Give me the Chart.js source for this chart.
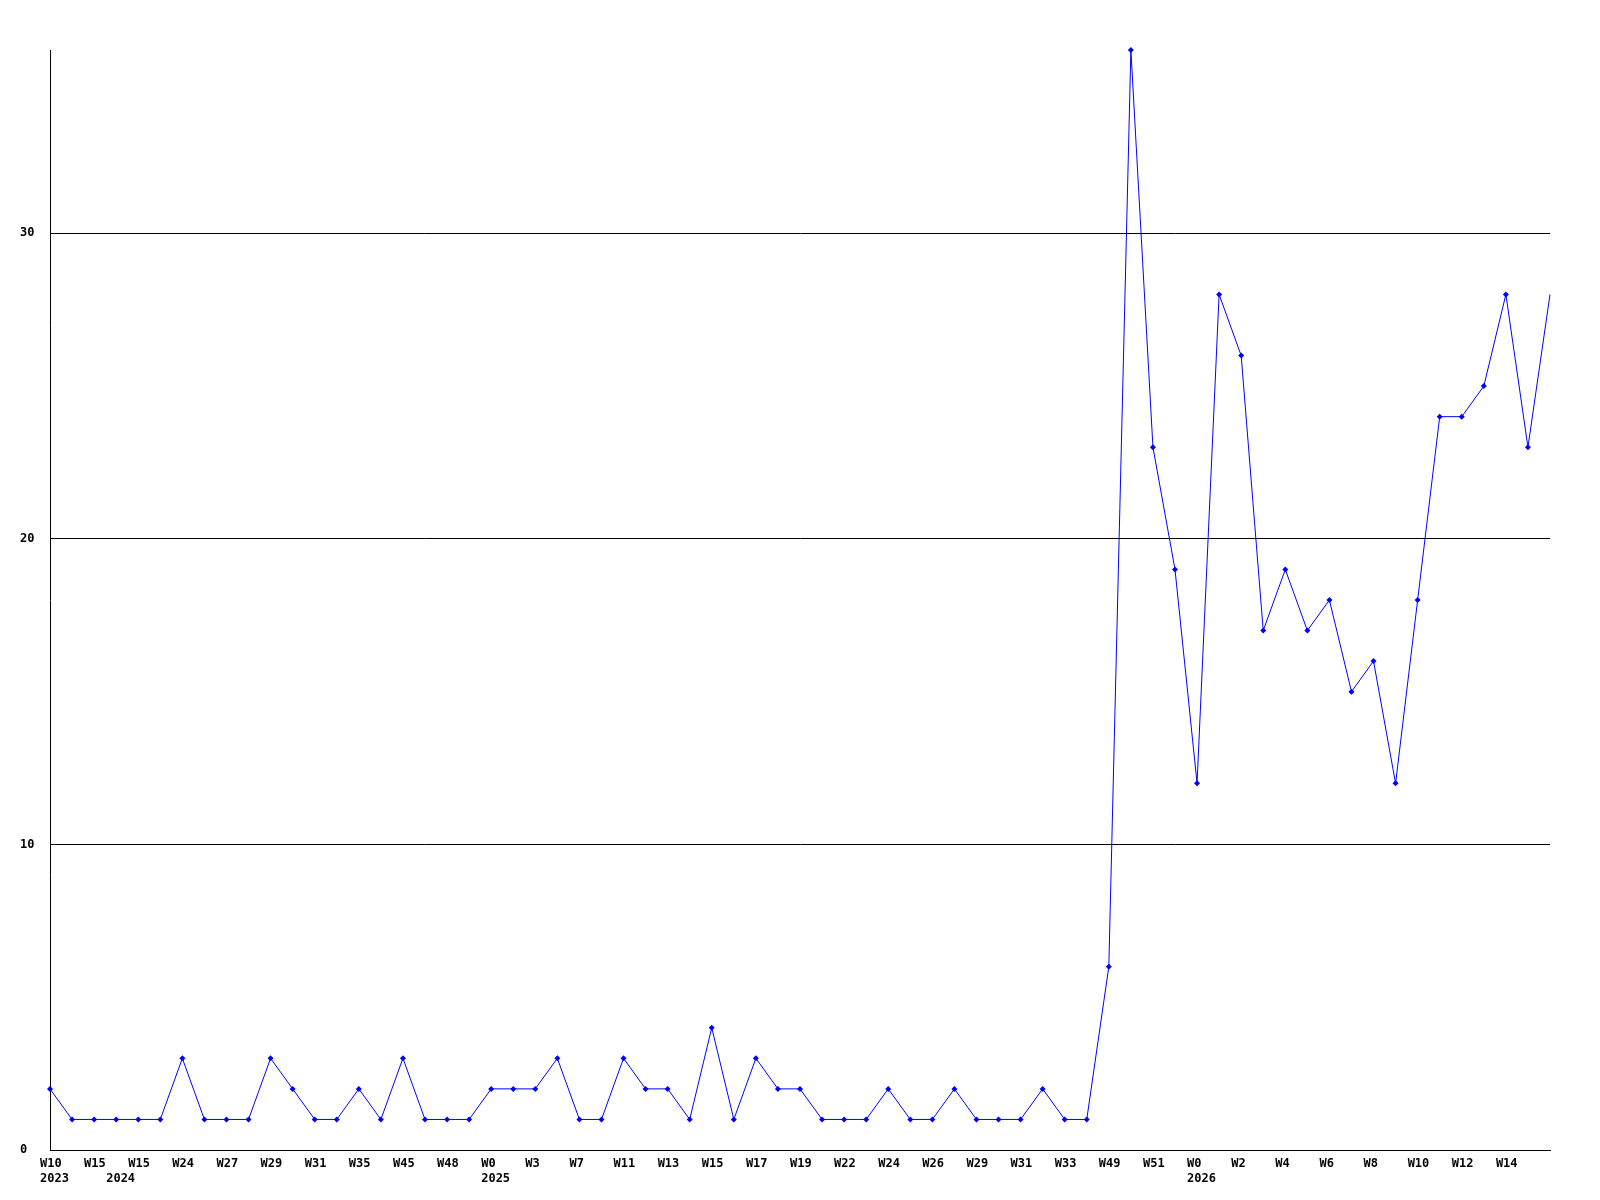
<!DOCTYPE html>
<html>
<head>
<meta charset="utf-8">
<script src="https://cdn.jsdelivr.net/npm/chart.js@4.4.0/dist/chart.umd.min.js"></script>
<style>
  html, body { margin: 0; padding: 0; background: #fff; }
  #wrap { width: 1600px; height: 1200px; }
</style>
</head>
<body>
<div id="wrap"><canvas id="weekChart" width="1600" height="1200"></canvas></div>
<script>
// week labels, shown under every second point ('' = no label)
const weeks = [
    'W10', '', 'W15', '', 'W15', '', 'W24', '', 'W27', '', 'W29', '', 'W31', '', 'W35', '', 'W45', '',
    'W48', '', 'W0', '', 'W3', '', 'W7', '', 'W11', '', 'W13', '', 'W15', '', 'W17', '', 'W19', '',
    'W22', '', 'W24', '', 'W26', '', 'W29', '', 'W31', '', 'W33', '', 'W49', '', 'W51', '', 'W0', '',
    'W2', '', 'W4', '', 'W6', '', 'W8', '', 'W10', '', 'W12', '', 'W14', '', ''
];
// year shown on the second line under some points
const years = { 0: '2023', 3: '2024', 20: '2025', 52: '2026' };

const counts = [
    2, 1, 1, 1, 1, 1, 3, 1, 1, 1, 3, 2, 1, 1, 2, 1, 3, 1, 1, 1,
    2, 2, 2, 3, 1, 1, 3, 2, 2, 1, 4, 1, 3, 2, 2, 1, 1, 1, 2, 1,
    1, 2, 1, 1, 1, 2, 1, 1, 6, 36, 23, 19, 12, 28, 26, 17, 19, 17, 18, 15,
    16, 12, 18, 24, 24, 25, 28, 23, 28
];

const yTicks = [0, 10, 20, 30];
const yMax = 36;

const labels = weeks.map((w, i) => years[i] ? [w, years[i]] : w);
const tickFont = { family: "'DejaVu Sans Mono', monospace", size: 12, weight: 'bold', lineHeight: 1.2 };

const ctx = document.getElementById('weekChart').getContext('2d');

new Chart(ctx, {
    type: 'line',
    data: {
        labels: labels,
        datasets: [{
            data: counts,
            borderColor: '#0000ff',
            backgroundColor: '#0000ff',
            borderWidth: 1,
            pointStyle: 'rectRot',
            // last point sits on the right edge without a marker
            pointRadius: (c) => c.dataIndex === counts.length - 1 ? 0 : 3,
            pointBorderWidth: 0,
            tension: 0,
            clip: false
        }]
    },
    options: {
        responsive: false,
        animation: false,
        layout: { padding: { top: 50, right: 50, left: 20, bottom: 0 } },
        plugins: {
            legend: { display: false },
            tooltip: { enabled: false }
        },
        scales: {
            x: {
                grid: { display: false },
                border: { display: true, color: '#000', width: 1 },
                afterFit: (scale) => { scale.height = 50; },
                ticks: {
                    autoSkip: false,
                    maxRotation: 0,
                    minRotation: 0,
                    align: 'start',
                    labelOffset: -10,
                    padding: -1,
                    color: '#000',
                    font: tickFont
                }
            },
            y: {
                min: 0,
                max: yMax,
                afterBuildTicks: (scale) => { scale.ticks = yTicks.map(v => ({ value: v })); },
                afterFit: (scale) => { scale.width = 30; },
                grid: { color: '#000', lineWidth: 1, drawTicks: false },
                border: { display: true, color: '#000', width: 1 },
                ticks: {
                    crossAlign: 'far',
                    padding: 0,
                    color: '#000',
                    font: tickFont
                }
            }
        }
    }
});
</script>
</body>
</html>
